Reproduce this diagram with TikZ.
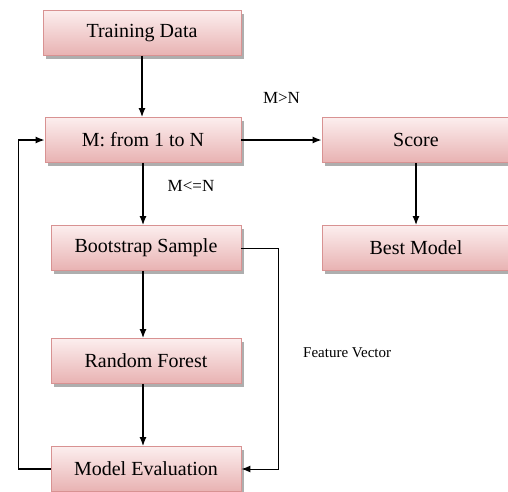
\documentclass[tikz,border=0pt]{standalone}
\usepackage{fontspec}
\setmainfont{Liberation Serif}
\usetikzlibrary{arrows.meta,shadows}
\definecolor{boxtop}{RGB}{252,238,238}
\definecolor{boxbot}{RGB}{232,178,178}
\definecolor{boxline}{RGB}{216,146,146}
\begin{document}
\begin{tikzpicture}[x=1pt, y=-1pt, >={Latex[length=9pt,width=7pt]}]
            \tikzstyle{box}=[rectangle, draw=boxline, line width=0.9pt, top color=boxtop, bottom color=boxbot, minimum height=45pt, inner sep=0pt, font=\fontsize{20}{24}\selectfont, drop shadow={shadow xshift=2.5pt, shadow yshift=-3pt, fill=black!45, opacity=0.7}]
            \tikzstyle{lbl}=[inner sep=1pt, font=\fontsize{15}{18}\selectfont]
            \tikzstyle{cond}=[inner sep=1pt, font=\fontsize{17}{20}\selectfont]
            \tikzstyle{link}=[->, line width=1.3pt]
            \useasboundingbox (0,0) rectangle (508,491);
            \node[box, minimum width=198pt] (TD) at (142,33) {Training Data};
            \node[box, minimum width=196pt] (M) at (143,140) {M: from 1 to N};
            \node[box, minimum width=190pt] (BS) at (146,248) {Bootstrap Sample};
            \node[box, minimum width=190pt] (RF) at (146,361) {Random Forest};
            \node[box, minimum width=190pt] (ME) at (146,469) {Model Evaluation};
            \node[box, minimum width=188pt] (SC) at (416,140) {Score};
            \node[box, minimum width=188pt] (BM) at (416,248) {Best Model};
            \node[lbl, anchor=west] (FV) at (302,353) {Feature Vector};
            \draw[link] (TD.south) -- (TD.south |- M.north);
            \draw[link] (M.east) -- node[cond, yshift=42pt] (gt) {M>N} (SC.west);
            \draw[link] (M.south) -- node[cond, xshift=48pt, yshift=8pt] (le) {M<=N} (M.south |- BS.north);
            \draw[link] (SC.south) -- (SC.south |- BM.north);
            \draw[link] (M.south |- BS.south) -- (M.south |- RF.north);
            \draw[link] (M.south |- RF.south) -- (M.south |- ME.north);
            \draw[->, line width=1pt] (BS.east) -- ++(37,0) |- (ME.east);
            \draw[link] (ME.west) -- ++(-32,0) |- (M.west);
\end{tikzpicture}
\end{document}
